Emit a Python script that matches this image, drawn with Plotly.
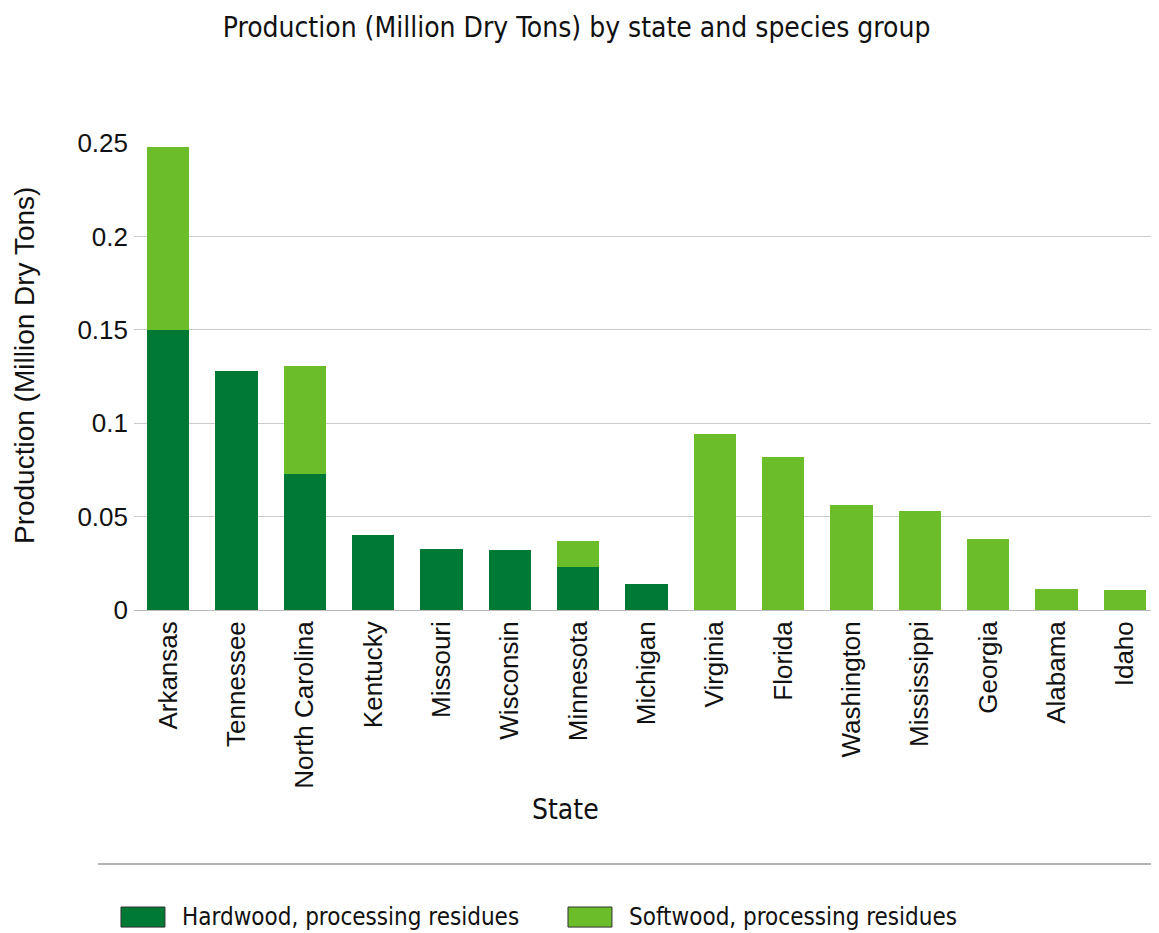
import plotly.graph_objects as go

states = ["Arkansas", "Tennessee", "North Carolina", "Kentucky", "Missouri", "Wisconsin",
          "Minnesota", "Michigan", "Virginia", "Florida", "Washington", "Mississippi",
          "Georgia", "Alabama", "Idaho"]
hardwood = [0.150, 0.128, 0.073, 0.040, 0.0325, 0.032, 0.023, 0.014, 0, 0, 0, 0, 0, 0, 0]
softwood = [0.098, 0, 0.0575, 0, 0, 0, 0.0140, 0, 0.094, 0.082, 0.056, 0.053, 0.038, 0.0115, 0.0105]
series_names = ["Hardwood, processing residues", "Softwood, processing residues"]

y_ticks = [0, 0.05, 0.1, 0.15, 0.2, 0.25]
y_tick_text = ["0", "0.05", "0.1", "0.15", "0.2", "0.25"]

DARK = "#007934"
LIGHT = "#6cbd2a"
NARROW = "DejaVu Sans Condensed, Liberation Sans, sans-serif"
BODY = "Liberation Sans, Arial, sans-serif"

fig = go.Figure()
fig.add_trace(go.Bar(x=states, y=hardwood, name=series_names[0],
                     marker=dict(color=DARK, line=dict(width=0))))
fig.add_trace(go.Bar(x=states, y=softwood, name=series_names[1],
                     marker=dict(color=LIGHT, line=dict(width=0))))

# manual legend (swatches + labels), positioned in paper coords
legend_shapes = []
legend_annots = []
for (x0, x1, tx), color, name in zip([(-0.0127, 0.0302, 0.0449), (0.4234, 0.4663, 0.481)],
                                     [DARK, LIGHT], series_names):
    legend_shapes.append(dict(type="rect", xref="paper", yref="paper", x0=x0, x1=x1,
                              y0=-0.679, y1=-0.636, fillcolor=color,
                              line=dict(color="#333333", width=1)))
    legend_annots.append(dict(text=name, xref="paper", yref="paper", x=tx, y=-0.6574,
                              xanchor="left", yanchor="middle", showarrow=False,
                              font=dict(family=NARROW, size=24, color="#111")))

fig.update_layout(
    barmode="stack",
    bargap=0.385,
    width=1151, height=925,
    margin=dict(l=126, r=0, t=135, b=323),
    paper_bgcolor="white", plot_bgcolor="white",
    title=dict(text="Production (Million Dry Tons) by state and species group",
               x=0.494, xref="container", xanchor="center", y=0.979, yanchor="middle",
               font=dict(family=NARROW, size=28, color="#111")),
    font=dict(family=BODY, color="#111"),
    showlegend=False,
    xaxis=dict(tickangle=-90, tickfont=dict(size=26, family=BODY), showgrid=False,
               showline=False, ticks="", automargin=False, ticklabelstandoff=5),
    yaxis=dict(range=[0, 0.25], tickvals=y_ticks, ticktext=y_tick_text,
               tickfont=dict(size=26, family=BODY), showgrid=True, gridcolor="#cccccc",
               gridwidth=1, zeroline=True, zerolinecolor="#bbbbbb", zerolinewidth=1,
               showline=False, ticks="", automargin=False, ticklabelstandoff=5),
    shapes=[dict(type="line", xref="paper", yref="paper", x0=-0.0351, x1=1.0,
                 y0=-0.5439, y1=-0.5439, line=dict(color="#999999", width=1.5))] + legend_shapes,
    annotations=[
        dict(text="State", xref="paper", yref="paper", x=0.4205, y=-0.428,
             xanchor="center", yanchor="middle", showarrow=False,
             font=dict(family=NARROW, size=28, color="#111")),
        dict(text="Production (Million Dry Tons)", xref="paper", yref="paper",
             x=-0.1063, y=0.5225, textangle=-90, xanchor="center", yanchor="middle",
             showarrow=False, font=dict(family=BODY, size=28, color="#111")),
    ] + legend_annots,
)

fig.write_html("out.html")
